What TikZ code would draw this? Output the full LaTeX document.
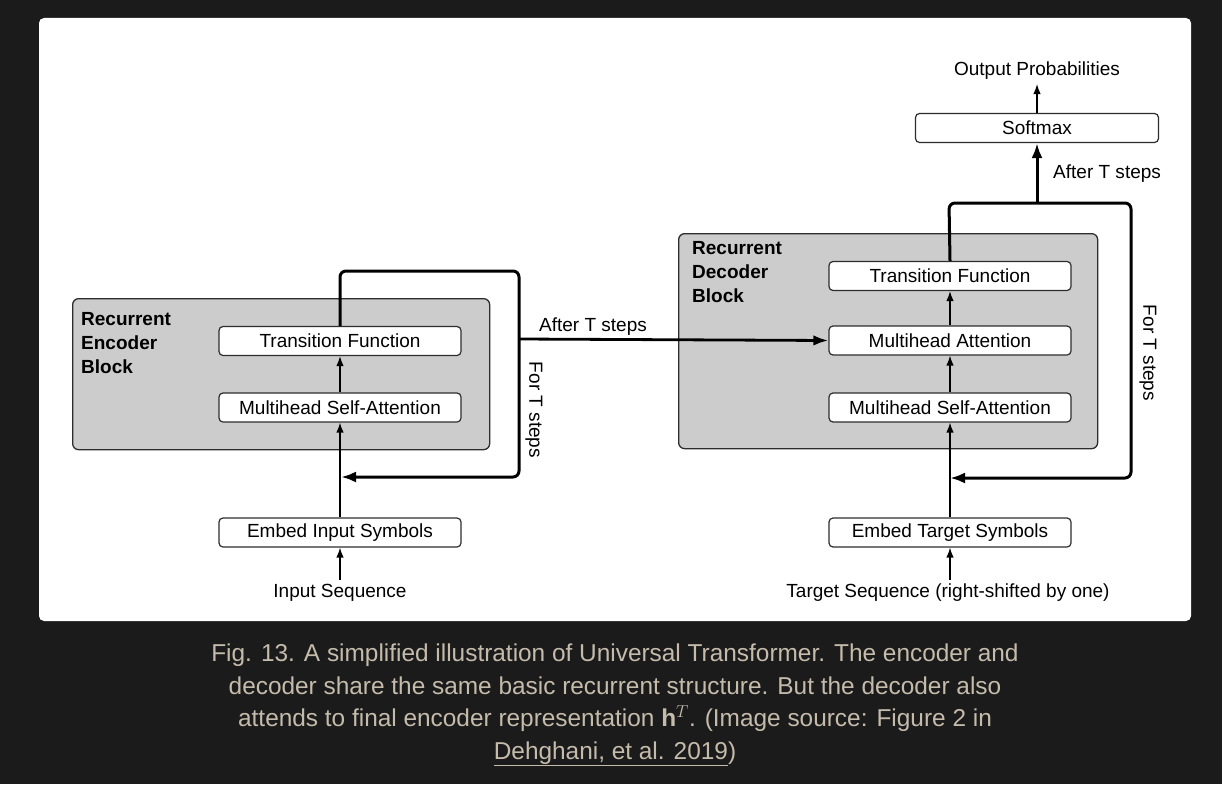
\documentclass[tikz,border=0pt]{standalone}
\usepackage{fontspec}
\setmainfont{Liberation Sans}
\usetikzlibrary{arrows.meta}
\definecolor{bgdark}{RGB}{27,27,27}
\definecolor{capcol}{RGB}{196,187,171}
\definecolor{blockgray}{RGB}{204,204,204}
\definecolor{edgecol}{RGB}{45,45,45}
\begin{document}
\begin{tikzpicture}[x=1pt,y=-1pt,
  font=\fontsize{19}{24}\selectfont,
  blockbox/.style={draw=edgecol, line width=1.3pt, fill=blockgray, rounded corners=6pt, inner sep=0pt, anchor=north west},
  blocklabel/.style={font=\fontsize{19}{24}\selectfont\bfseries, align=left, inner sep=0pt, anchor=north west},
  layerbox/.style={draw=edgecol, line width=1.2pt, fill=white, rounded corners=4pt, minimum width=242pt, minimum height=29pt, inner sep=0pt},
  plaintext/.style={inner sep=4pt},
  thinarrow/.style={line width=1.3pt, -{Latex[length=10pt,width=7.5pt]}},
  thickarrow/.style={line width=3pt, rounded corners=6pt, -{Latex[length=15pt,width=11pt]}},
  midarrow/.style={line width=2.8pt, -{Latex[length=15pt,width=10.5pt]}},
]
% background and panel
\fill[bgdark] (0,0) rectangle (1222,784);
\fill[white, rounded corners=5pt] (39,18) rectangle (1191,621);

% encoder block
\node[blockbox, minimum width=417pt, minimum height=151pt] (encblock) at (72,298) {};
\node[blocklabel] (enclabel) at (81,312) {Recurrent\\Encoder\\Block};
\node[layerbox] (etf) at (340,341) {Transition Function};
\node[layerbox] (emsa) at (340,407.5) {Multihead Self-Attention};
\node[layerbox] (eemb) at (340,532.5) {Embed Input Symbols};
\node[plaintext] (einp) at (340,593) {Input Sequence};

% decoder block
\node[blockbox, minimum width=419pt, minimum height=215pt] (decblock) at (678,233) {};
\node[blocklabel] (declabel) at (692,241) {Recurrent\\Decoder\\Block};
\node[layerbox] (dtf) at (950,276) {Transition Function};
\node[layerbox] (dma) at (950,340.5) {Multihead Attention};
\node[layerbox] (dmsa) at (950,407.5) {Multihead Self-Attention};
\node[layerbox] (demb) at (950,532.5) {Embed Target Symbols};
\node[plaintext] (dinp) at (948,593) {Target Sequence (right-shifted by one)};
\node[layerbox, minimum width=243pt] (soft) at (1037,128) {Softmax};
\node[plaintext] (outp) at (1037,71) {Output Probabilities};

% coordinates of loops
\coordinate (eTL) at (340,271);
\coordinate (eTR) at (519,271);
\coordinate (eMR) at (519,339);
\coordinate (eBR) at (519,477);
\coordinate (eEnd) at (341,477);
\coordinate (dTL) at (949,203);
\coordinate (dTM) at (1037,203);
\coordinate (dTR) at (1131,203);
\coordinate (dBR) at (1131,478);
\coordinate (dEnd) at (950,478);

% encoder arrows
\draw[thinarrow] (einp.north) -- (eemb.south);
\draw[thinarrow] (eemb.north) -- (emsa.south);
\draw[thinarrow] (emsa.north) -- (etf.south);
\draw[thickarrow] (etf.north) -- (eTL) -- (eTR) -- (eBR) -- (eEnd);
\draw[midarrow] (eMR) -- (dma.west);

% decoder arrows
\draw[thinarrow] (demb.south |- dinp.north) -- (demb.south);
\draw[thinarrow] (demb.north) -- (dmsa.south);
\draw[thinarrow] (dmsa.north) -- (dma.south);
\draw[thinarrow] (dma.north) -- (dtf.south);
\draw[thickarrow] (dtf.north) -- (dTL) -- (dTR) -- (dBR) -- (dEnd);
\draw[thickarrow] (dTM) -- (soft.south);
\draw[thinarrow] (soft.north) -- (outp.south);

% labels
\node[inner sep=0pt] (lafter1) at (593,327) {After T steps};
\node[inner sep=0pt, anchor=west] (lafter2) at (1053,174) {After T steps};
\node[inner sep=0pt, rotate=-90] (lfor1) at (534,410) {For T steps};
\node[inner sep=0pt, rotate=-90] (lfor2) at (1148,353) {For T steps};

% caption
\node[text=capcol, font=\fontsize{24.4}{32.5}\selectfont, align=center] (caption) at (615,705)
  {Fig. 13. A simplified illustration of Universal Transformer. The encoder and\\
   decoder share the same basic recurrent structure. But the decoder also\\
   attends to final encoder representation \(\mathbf{h}^T\). (Image source: Figure 2 in\\
   \underline{Dehghani, et al. 2019})};
\end{tikzpicture}
\end{document}
